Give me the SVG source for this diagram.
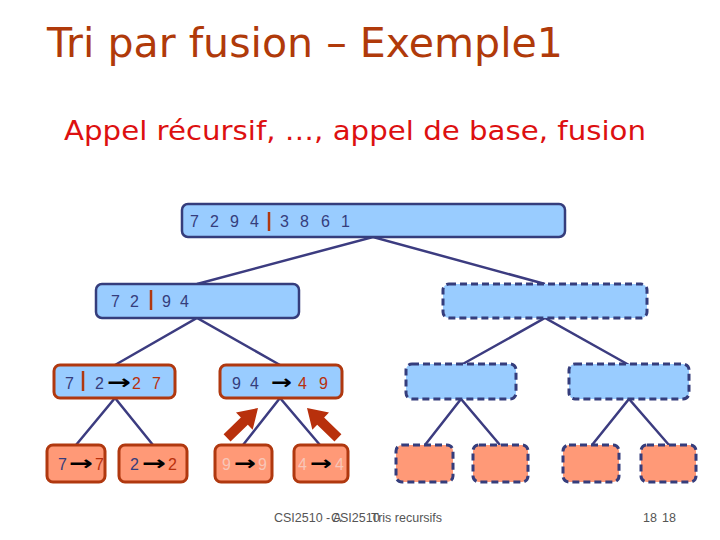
<svg xmlns="http://www.w3.org/2000/svg" width="720" height="540" viewBox="0 0 720 540">
<style>
.blue{fill:#99ccff;stroke:#353d7c;stroke-width:2.5}
.blueR{fill:#99ccff;stroke:#b0380f;stroke-width:3}
.sal{fill:#ff9977;stroke:#b0380f;stroke-width:3}
.dashB{fill:#99ccff;stroke:#353d7c;stroke-width:3;stroke-dasharray:7 4}
.dashS{fill:#ff9977;stroke:#353d7c;stroke-width:3;stroke-dasharray:7 4}
.num{font-family:"Liberation Sans",Arial,sans-serif;font-size:16px;fill:#353d7c}
.red{fill:#b8300c}
.fade{fill:#f8c6b8}
.arr{font-family:"DejaVu Sans",sans-serif;font-size:20px;font-weight:bold;fill:#000}
.bar{stroke:#b0380f;stroke-width:2.5}
.con{stroke:#3c3c80;stroke-width:2.5;fill:none}
.foot{font-family:"Liberation Sans",Arial,sans-serif;font-size:12.5px;fill:#555}
</style>
<rect width="720" height="540" fill="#fff"/>
<text x="47" y="57" font-family="'Comic Sans MS','DejaVu Sans',sans-serif" font-size="40" fill="#b03a0a" textLength="516" lengthAdjust="spacingAndGlyphs">Tri par fusion – Exemple1</text>
<text x="64" y="140" font-family="'Comic Sans MS','DejaVu Sans',sans-serif" font-size="27" fill="#dd1010" textLength="582" lengthAdjust="spacingAndGlyphs">Appel récursif, …, appel de base, fusion</text>

<g id="connectors">
<polyline class="con" points="197,284 373,237 545,284"/>
<polyline class="con" points="115,365 197,318 280,365"/>
<polyline class="con" points="461,365 545,318 629,365"/>
<polyline class="con" points="76,445 115,398 153,445"/>
<polyline class="con" points="243,445 280,398 320,445"/>
<polyline class="con" points="425,445 461,399 500,445"/>
<polyline class="con" points="592,445 629,399 669,445"/>
</g>

<g id="n0">
<rect class="blue" x="182" y="204" width="383" height="33" rx="6"/>
<text class="num" x="190 210 230 250" y="227">7294</text>
<line class="bar" x1="269" y1="212" x2="269" y2="231"/>
<text class="num" x="280 300 321 341" y="227">3861</text>
</g>
<g id="n1">
<rect class="blue" x="96" y="284" width="203" height="34" rx="6"/>
<text class="num" x="111 130" y="307">72</text>
<line class="bar" x1="151" y1="290" x2="151" y2="310"/>
<text class="num" x="162 180" y="307">94</text>
</g>
<g id="n2">
<rect class="dashB" x="443" y="284" width="204" height="34" rx="6"/>
</g>
<g id="n3">
<rect class="blueR" x="54" y="365" width="121" height="33" rx="6"/>
<text class="num" x="65" y="389">7</text>
<line class="bar" x1="83" y1="371" x2="83" y2="391"/>
<text class="num" x="95" y="389">2</text>
<text class="arr" x="107" y="389" textLength="24" lengthAdjust="spacingAndGlyphs">→</text>
<text class="num red" x="132 152" y="389">27</text>
</g>
<g id="n4">
<rect class="blueR" x="220" y="365" width="122" height="33" rx="6"/>
<text class="num" x="232 250" y="389">94</text>
<text class="arr" x="271" y="389" textLength="21" lengthAdjust="spacingAndGlyphs">→</text>
<text class="num red" x="298 319" y="389">49</text>
</g>
<g id="n5"><rect class="dashB" x="406" y="364" width="110" height="35" rx="6"/></g>
<g id="n6"><rect class="dashB" x="569" y="364" width="120" height="35" rx="6"/></g>

<g id="n7">
<rect class="sal" x="47" y="445" width="58" height="37" rx="6"/>
<text class="num" x="58" y="470">7</text>
<text class="arr" x="69" y="470" textLength="24" lengthAdjust="spacingAndGlyphs">→</text>
<text class="num red" x="95" y="470">7</text>
</g>
<g id="n8">
<rect class="sal" x="119" y="445" width="68" height="37" rx="6"/>
<text class="num" x="130" y="470">2</text>
<text class="arr" x="142" y="470" textLength="24" lengthAdjust="spacingAndGlyphs">→</text>
<text class="num red" x="168" y="470">2</text>
</g>
<g id="n9">
<rect class="sal" x="215" y="445" width="57" height="37" rx="6"/>
<text class="num fade" x="222" y="470">9</text>
<text class="arr fade" x="234" y="470" textLength="22" lengthAdjust="spacingAndGlyphs">→</text>
<text class="num fade" x="258" y="470">9</text>
</g>
<g id="n10">
<rect class="sal" x="294" y="445" width="54" height="37" rx="6"/>
<text class="num fade" x="298" y="470">4</text>
<text class="arr fade" x="310" y="470" textLength="22" lengthAdjust="spacingAndGlyphs">→</text>
<text class="num fade" x="335" y="470">4</text>
</g>
<g id="n11"><rect class="dashS" x="396" y="445" width="57" height="37" rx="6"/></g>
<g id="n12"><rect class="dashS" x="473" y="445" width="55" height="37" rx="6"/></g>
<g id="n13"><rect class="dashS" x="563" y="445" width="56" height="37" rx="6"/></g>
<g id="n14"><rect class="dashS" x="641" y="445" width="55" height="37" rx="6"/></g>

<g id="bigarrows" fill="#b8300c">
<polygon transform="translate(258,408) rotate(-44)" points="0,0 -19,-12 -19,-5 -43,-5 -43,5 -19,5 -19,12"/>
<polygon transform="translate(307,408) rotate(-136)" points="0,0 -19,-12 -19,-5 -43,-5 -43,5 -19,5 -19,12"/>
</g>

<text class="foot" x="274" y="522">CSI2510 - A</text>
<text class="foot" x="331" y="522">CSI2510</text>
<text class="foot" x="371" y="522">Tris recursifs</text>
<text class="foot" x="643" y="522">18</text>
<text class="foot" x="662" y="522">18</text>
</svg>
